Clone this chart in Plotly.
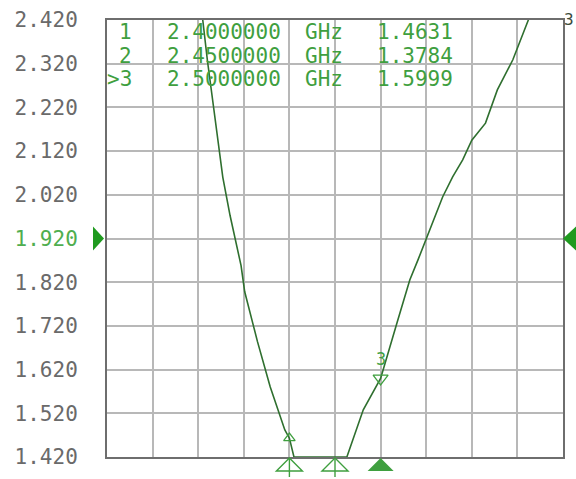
import numpy as np
import plotly.graph_objects as go

# ---- data ----
freq_ghz = [2.200, 2.250, 2.290, 2.305, 2.310, 2.315, 2.321, 2.327, 2.335, 2.347, 2.351,
            2.365, 2.379, 2.395, 2.400, 2.405, 2.415, 2.430, 2.440, 2.450, 2.463, 2.481,
            2.500, 2.518, 2.532, 2.541, 2.554, 2.568, 2.579, 2.590, 2.600, 2.615, 2.628,
            2.645, 2.662, 2.680, 2.700]
vswr = [3.40, 2.95, 2.56, 2.420, 2.329, 2.250, 2.150, 2.060, 1.972, 1.858, 1.798,
        1.684, 1.580, 1.482, 1.4631, 1.418, 1.392, 1.374, 1.372, 1.3784, 1.420, 1.528,
        1.5999, 1.727, 1.825, 1.871, 1.940, 2.015, 2.061, 2.100, 2.145, 2.184, 2.260,
        2.329, 2.420, 2.50, 2.58]

marker_ids = ["1", "2", "3"]
marker_freq = [2.40, 2.45, 2.50]
marker_val = [1.4631, 1.3784, 1.5999]
marker_freq_text = ["2.4000000", "2.4500000", "2.5000000"]
marker_val_text = ["1.4631", "1.3784", "1.5999"]
active_marker = 2  # index of active marker (3)

y_ticks = [1.42, 1.52, 1.62, 1.72, 1.82, 1.92, 2.02, 2.12, 2.22, 2.32, 2.42]
y_tick_labels = ["1.420", "1.520", "1.620", "1.720", "1.820", "1.920",
                 "2.020", "2.120", "2.220", "2.320", "2.420"]
ref_level = 1.92
x_start, x_stop = 2.20, 2.70
y_min, y_max = 1.42, 2.42

# ---- style ----
TRACE = "#2f6f2f"
GREEN = "#3f9f3f"
GRID = "#b8b8b8"
BORDER = "#6e6e6e"
LABEL = "#6a6a6a"
FONT = "DejaVu Sans Mono"
FS = 21


def xp(f):
    return (f - x_start) / (x_stop - x_start)


def yp(v):
    return (v - y_min) / (y_max - y_min)


ticktext = [f'<span style="color:#4fae4f">{t}</span>' if abs(v - ref_level) < 1e-9 else t
            for v, t in zip(y_ticks, y_tick_labels)]

fig = go.Figure()

# trace, clamped at the bottom edge like the instrument display
fig.add_trace(go.Scatter(x=freq_ghz, y=np.clip(vswr, y_min, None), mode="lines",
                         line=dict(color=TRACE, width=1.6), hoverinfo="skip"))

# marker 1 symbol on trace
fig.add_trace(go.Scatter(x=[marker_freq[0]], y=[marker_val[0]], mode="markers",
                         marker=dict(symbol="triangle-up-open", size=10,
                                     color=GREEN, line=dict(width=1.3)),
                         hoverinfo="skip"))
# marker 3 symbol on trace
fig.add_trace(go.Scatter(x=[marker_freq[2]], y=[marker_val[2]], mode="markers",
                         marker=dict(symbol="triangle-down-open", size=13,
                                     color=GREEN, line=dict(width=1.3)),
                         hoverinfo="skip"))

fig.update_layout(
    width=576, height=479,
    margin=dict(l=107, r=13, t=20, b=22),
    paper_bgcolor="white", plot_bgcolor="white",
    showlegend=False,
    xaxis=dict(range=[x_start, x_stop], dtick=0.05, tick0=x_start, automargin=False,
               showticklabels=False, showgrid=True, gridcolor=GRID, gridwidth=1.5,
               zeroline=False, showline=True, linecolor=BORDER, linewidth=2,
               mirror=True, ticks=""),
    yaxis=dict(range=[y_min, y_max], tickvals=y_ticks, ticktext=ticktext,
               automargin=False,
               showgrid=True, gridcolor=GRID, gridwidth=1.5, zeroline=False,
               showline=True, linecolor=BORDER, linewidth=2, mirror=True,
               ticks="", ticklabelstandoff=23,
               tickfont=dict(family=FONT, size=FS, color=LABEL)),
)

# marker indicators below the axis
for i, f in enumerate(marker_freq):
    filled = (i == active_marker)
    fig.add_shape(type="path", xref="paper", yref="paper",
                  xsizemode="pixel", ysizemode="pixel",
                  xanchor=xp(f), yanchor=0,
                  path="M -13,-14 L 13,-14 L 0,-1 Z",
                  fillcolor=GREEN if filled else "rgba(0,0,0,0)",
                  line=dict(color=GREEN, width=0 if filled else 1.4))
    if not filled:
        fig.add_shape(type="path", xref="paper", yref="paper",
                      xsizemode="pixel", ysizemode="pixel",
                      xanchor=xp(f), yanchor=0,
                      path="M 0,-1 L 0,-20", line=dict(color=GREEN, width=1.4))

# marker table
row_y = [0.9725, 0.918, 0.865]
for i in range(3):
    mid = (">" if i == active_marker else "") + marker_ids[i]
    fig.add_annotation(xref="paper", yref="paper", x=0.060, y=row_y[i], text=mid,
                       showarrow=False, xanchor="right", yanchor="middle",
                       font=dict(family=FONT, size=FS, color=GREEN))
    fig.add_annotation(xref="paper", yref="paper", x=0.128, y=row_y[i],
                       text=marker_freq_text[i], showarrow=False, xanchor="left",
                       yanchor="middle", font=dict(family=FONT, size=FS, color=GREEN))
    fig.add_annotation(xref="paper", yref="paper", x=0.430, y=row_y[i], text="GHz",
                       showarrow=False, xanchor="left", yanchor="middle",
                       font=dict(family=FONT, size=FS, color=GREEN))
    fig.add_annotation(xref="paper", yref="paper", x=0.588, y=row_y[i],
                       text=marker_val_text[i], showarrow=False, xanchor="left",
                       yanchor="middle", font=dict(family=FONT, size=FS, color=GREEN))

# label of marker 3 above its symbol
fig.add_annotation(x=marker_freq[2], y=marker_val[2], text=marker_ids[2],
                   showarrow=False, yanchor="bottom", yshift=7,
                   font=dict(family=FONT, size=17, color=GREEN))

# channel tag at top right
fig.add_annotation(xref="paper", yref="paper", x=1.0, y=1.0, text="3",
                   showarrow=False, xanchor="left", yanchor="middle", xshift=-1, yshift=1,
                   font=dict(family=FONT, size=16, color="#3a4a3a"))

# reference level pointers
fig.add_shape(type="path", xref="paper", yref="paper", xsizemode="pixel",
              ysizemode="pixel", xanchor=0, yanchor=yp(ref_level),
              path="M -14,12 L -3,0 L -14,-12 Z", fillcolor="#1f9a1f",
              line=dict(width=0))
fig.add_shape(type="path", xref="paper", yref="paper", xsizemode="pixel",
              ysizemode="pixel", xanchor=1, yanchor=yp(ref_level),
              path="M 13,12 L 0,0 L 13,-12 Z", fillcolor="#1f9a1f",
              line=dict(width=0))

fig.write_html(
    "out.html",
    config={"displayModeBar": False},
    post_script="document.body.style.margin='0';document.body.style.overflow='hidden';",
)
